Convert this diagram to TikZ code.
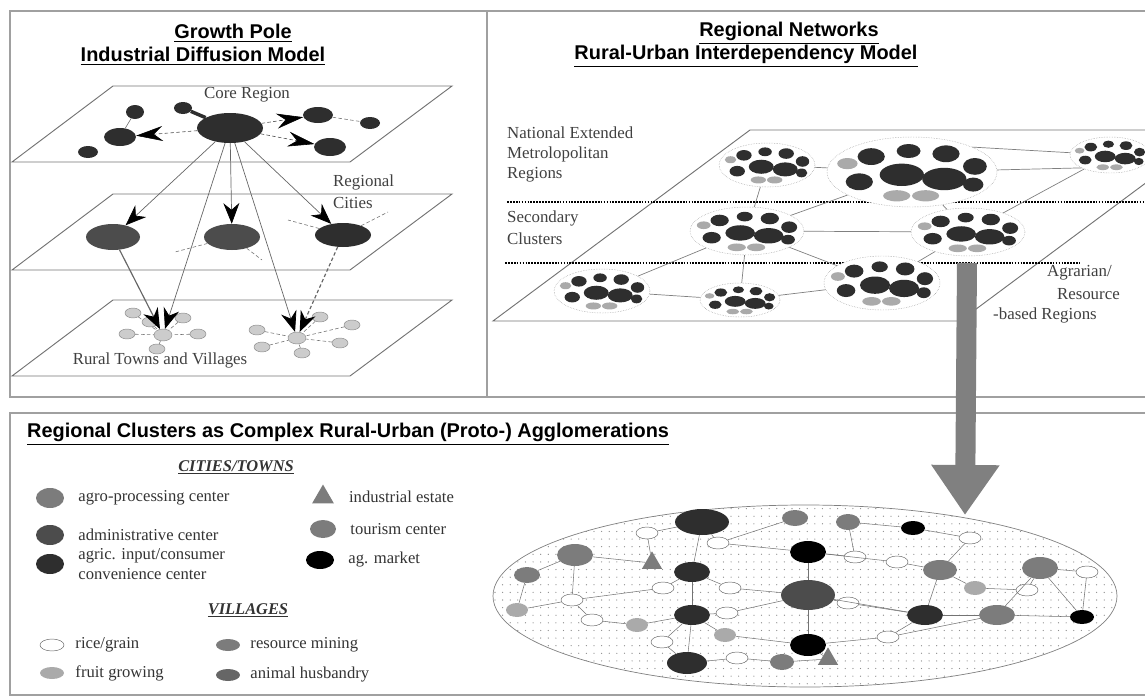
\documentclass[tikz,border=0pt]{standalone}
\usepackage{fontspec}
\setmainfont{Liberation Serif}
\setsansfont{Liberation Sans}
\usetikzlibrary{shapes.geometric}
\usetikzlibrary{arrows.meta}
\usetikzlibrary{patterns}
\usetikzlibrary{positioning}

\definecolor{darkhub}{HTML}{2E2E2E}
\definecolor{midhub}{HTML}{4C4C4C}
\definecolor{greyhub}{HTML}{7C7C7C}
\definecolor{lighthub}{HTML}{AAAAAA}
\definecolor{framegrey}{HTML}{A0A0A0}

% sparse dots for the agglomeration
\pgfdeclarepatternformonly{sparsedots}{\pgfqpoint{-1pt}{-1pt}}{\pgfqpoint{4pt}{4pt}}{\pgfqpoint{6.5pt}{6.5pt}}%
  {\pgfpathcircle{\pgfqpoint{0pt}{0pt}}{0.55pt}\pgfusepath{fill}}

% inner towns of one regional cluster (drawn for rx=50, ry=25)
\newcommand{\clusterdots}[3]{%
  \begin{scope}[shift={(#1)}, xscale=#2, yscale=#3]
    \fill[lighthub] (-38,-6) ellipse [x radius=6, y radius=4];
    \fill[lighthub] (-9,17) ellipse [x radius=8, y radius=4];
    \fill[lighthub] (8,17) ellipse [x radius=8, y radius=4];
    \fill[darkhub] (-24,-11) ellipse [x radius=8, y radius=6];
    \fill[darkhub] (-2,-15) ellipse [x radius=7, y radius=5];
    \fill[darkhub] (20,-13) ellipse [x radius=8, y radius=6];
    \fill[darkhub] (37,-4) ellipse [x radius=7, y radius=6];
    \fill[darkhub] (-31,7) ellipse [x radius=8, y radius=6];
    \fill[darkhub] (-6,2) ellipse [x radius=13, y radius=8];
    \fill[darkhub] (19,5) ellipse [x radius=13, y radius=8];
    \fill[darkhub] (36,9) ellipse [x radius=6, y radius=5];
  \end{scope}}

\begin{document}
\begin{tikzpicture}[x=0.03cm, y=-0.03cm]
  \tikzset{
    hub/.style 2 args={ellipse, inner sep=0pt,
      minimum width=#1*0.06cm, minimum height=#2*0.06cm},
    frame/.style={draw=framegrey, line width=1pt},
    plane/.style={draw=black!55, line width=0.8pt},
    heading/.style={font=\sffamily\bfseries\fontsize{17}{19}\selectfont, inner sep=0pt},
    tag/.style={font=\fontsize{14.4}{17}\selectfont, inner sep=0pt, text=black!75},
    legtext/.style={font=\fontsize{14.2}{17}\selectfont, inner sep=0pt, text=black!80, align=left},
    leghead/.style={font=\bfseries\itshape\fontsize{14}{17}\selectfont, inner sep=0pt, text=black!80},
    push/.style={densely dashed, black!70, line width=0.5pt,
      -{Stealth[length=0.8cm, width=0.45cm, color=black]}},
    drop/.style={black!60, line width=0.6pt,
      -{Stealth[length=0.62cm, width=0.48cm, color=black]}},
    hamlet/.style={hub={8}{5}, fill=lighthub!60, draw=black!45, line width=0.4pt},
    spoke/.style={densely dashed, black!55, line width=0.5pt},
    cluster/.style={ellipse, inner sep=0pt, draw=black!45, densely dotted, fill=white},
    tie/.style={draw=black!50, line width=0.6pt},
    levelline/.style={black, line width=1.3pt, dash pattern=on 1.5pt off 1pt},
    link/.style={draw=black!55, line width=0.45pt},
    village/.style={hub={11}{6}, fill=white, draw=black!60, line width=0.4pt},
    estate/.style={regular polygon, regular polygon sides=3, inner sep=0pt,
      minimum size=0.75cm, fill=greyhub},
  }
  \useasboundingbox (0,0) rectangle (1145,699);
  \clip (0,0) rectangle (1145,699);

  % frames
  \draw[frame] (10,11) rectangle (1170,397);
  \draw[frame] (487,11) -- (487,397);
  \draw[frame] (10,413) rectangle (1170,695);

  % ---------- growth pole model ----------
  \node[heading] (gptitle) at (233,33) {\underline{Growth Pole}};
  \node[heading] (gpsub) at (203,56) {\underline{Industrial Diffusion Model}};

  \foreach \yy in {86,194,300}
    \draw[plane] (12,\yy+76) -- (350,\yy+76) -- (452,\yy) -- (113,\yy) -- cycle;

  \node[tag] (coretag) at (247,95) {Core Region};
  \node[tag, anchor=west] (regtag) at (333,182) {Regional};
  \node[tag, anchor=west] (citytag) at (333,203) {Cities};
  \node[tag] (ruraltag) at (160,360) {Rural Towns and Villages};

  % core region
  \node[hub={33}{15}, fill=darkhub] (core) at (230,128) {};
  \node[hub={9}{7}, fill=darkhub] (c1) at (135,112) {};
  \node[hub={9}{6}, fill=darkhub] (c2) at (183,108) {};
  \node[hub={16}{9}, fill=darkhub] (c3) at (120,137) {};
  \node[hub={10}{6}, fill=darkhub] (c4) at (88,152) {};
  \node[hub={15}{8}, fill=darkhub] (c5) at (318,115) {};
  \node[hub={10}{6}, fill=darkhub] (c6) at (370,123) {};
  \node[hub={16}{9}, fill=darkhub] (c7) at (330,147) {};

  \draw[black!60, line width=0.5pt] (c1) -- (c3);
  \draw[darkhub, line width=3pt] (c2) -- (core);
  \draw[spoke] (c5) -- (c6);
  \draw[push] (core) -- (c3);
  \draw[push] (core) -- (c5);
  \draw[push] (core) -- (c7);

  % regional cities
  \node[hub={27}{13}, fill=midhub] (r1) at (113,237) {};
  \node[hub={28}{13}, fill=midhub] (r2) at (232,237) {};
  \node[hub={28}{12}, fill=darkhub] (r3) at (343,235) {};
  \draw[spoke] (r2) -- (175,252);
  \draw[spoke] (r2) -- (262,260);
  \draw[spoke] (r3) -- (288,220);
  \draw[spoke] (r3) -- (388,212);

  % rural towns and villages
  \node[hub={9}{6}, fill=lighthub!60, draw=black!45] (v1) at (163,335) {};
  \foreach \n/\px/\py in {a/133/313, b/183/318, c/127/334, d/198/334, e/157/349, f/150/322}
    {\node[hamlet] (v1\n) at (\px,\py) {};
     \draw[spoke] (v1\n) -- (v1);}
  \node[hub={9}{6}, fill=lighthub!60, draw=black!45] (v2) at (297,338) {};
  \foreach \n/\px/\py in {a/257/330, b/262/347, c/320/317, d/352/325, e/340/343, f/302/353}
    {\node[hamlet] (v2\n) at (\px,\py) {};
     \draw[spoke] (v2\n) -- (v2);}

  \draw[drop] (core) -- (r1);
  \draw[drop] (core) -- (r2);
  \draw[drop] (core) -- (r3);
  \draw[drop] (core) -- (v1);
  \draw[drop] (core) -- (v2);
  \draw[drop, line width=1pt] (r1) -- (v1);
  \draw[drop, densely dashed, line width=1pt] (r3) -- (v2);

  % ---------- regional networks model ----------
  \node[heading] (rntitle) at (789,33) {\underline{Regional Networks}};
  \node[heading] (rnsub) at (746,56) {\underline{Rural-Urban Interdependency Model}};

  \draw[plane] (493,321) -- (960,321) -- (1217,130) -- (750,130) -- cycle;
  \draw[levelline] (507,202) -- (1145,202);
  \draw[levelline] (505,263) -- (1080,263);

  \node[tag, anchor=west] (nattag) at (507,133) {National Extended};
  \node[tag, anchor=west] (mettag) at (507,154) {Metrolopolitan};
  \node[tag, anchor=west] (rgntag) at (507,175) {Regions};
  \node[tag, anchor=west] (sectag) at (507,218) {Secondary};
  \node[tag, anchor=west] (clutag) at (507,239) {Clusters};
  \node[tag, anchor=east] (agrtag) at (1112,273) {Agrarian/};
  \node[tag, anchor=east] (restag) at (1120,294) {Resource};
  \node[tag, anchor=east] (bastag) at (1097,315) {-based Regions};

  \node[cluster, minimum width=96*0.03cm, minimum height=44*0.03cm] (ca) at (767,165) {};
  \node[cluster, minimum width=170*0.03cm, minimum height=70*0.03cm] (cb) at (912,172) {};
  \node[cluster, minimum width=80*0.03cm, minimum height=36*0.03cm] (cc) at (1110,155) {};
  \node[cluster, minimum width=114*0.03cm, minimum height=48*0.03cm] (cd) at (747,231) {};
  \node[cluster, minimum width=114*0.03cm, minimum height=48*0.03cm] (ce) at (968,232) {};
  \node[cluster, minimum width=96*0.03cm, minimum height=44*0.03cm] (cf) at (602,291) {};
  \node[cluster, minimum width=80*0.03cm, minimum height=34*0.03cm] (cg) at (740,300) {};
  \node[cluster, minimum width=116*0.03cm, minimum height=54*0.03cm] (ch) at (882,283) {};

  \clusterdots{ca.center}{0.96}{0.88}
  \clusterdots{cb.center}{1.7}{1.4}
  \clusterdots{cc.center}{0.8}{0.72}
  \clusterdots{cd.center}{1.14}{0.96}
  \clusterdots{ce.center}{1.14}{0.96}
  \clusterdots{cf.center}{0.96}{0.88}
  \clusterdots{cg.center}{0.8}{0.68}
  \clusterdots{ch.center}{1.16}{1.08}

  \draw[tie] (ca) -- (cb);
  \draw[tie] (ca) -- (cd);
  \draw[tie] (cb.north east) -- (cc);
  \draw[tie] (cb) -- (cc.south west);
  \draw[tie] (cc) -- (ce);
  \draw[tie] (cb) -- (ce);
  \draw[tie] (cd) -- (cb);
  \draw[tie] (cd) -- (ce);
  \draw[tie] (cd) -- (cf);
  \draw[tie] (cd) -- (cg);
  \draw[tie] (cd) -- (ch);
  \draw[tie] (cf) -- (cg);
  \draw[tie] (cg) -- (ch);
  \draw[tie] (ch) -- (ce);

  % ---------- regional clusters ----------
  \node[heading, anchor=west] (rctitle) at (27,434)
    {\underline{Regional Clusters as Complex Rural-Urban (Proto-) Agglomerations}};

  \node[leghead] (cityhead) at (236,467) {\underline{CITIES/TOWNS}};
  \node[hub={14}{10}, fill=greyhub] (leg1) at (50,498) {};
  \node[legtext, right=0.42cm of leg1] {agro-processing center};
  \node[hub={14}{10}, fill=midhub] (leg2) at (50,535) {};
  \node[legtext, right=0.42cm of leg2] {administrative center};
  \node[hub={14}{10}, fill=darkhub] (leg3) at (50,564) {};
  \node[legtext, right=0.42cm of leg3] {agric. input/consumer\\convenience center};
  \node[estate] (leg4) at (323,497) {};
  \node[legtext, right=0.55cm of leg4] {industrial estate};
  \node[hub={13}{9}, fill=greyhub] (leg5) at (323,529) {};
  \node[legtext, right=0.42cm of leg5] {tourism center};
  \node[hub={14}{9}, fill=black] (leg6) at (320,560) {};
  \node[legtext, right=0.42cm of leg6] {ag. market};

  \node[leghead] (villhead) at (248,610) {\underline{VILLAGES}};
  \node[village, hub={12}{6}] (leg7) at (52,645) {};
  \node[legtext, right=0.33cm of leg7] {rice/grain};
  \node[hub={12}{6}, fill=lighthub] (leg8) at (52,673) {};
  \node[legtext, right=0.33cm of leg8] {fruit growing};
  \node[hub={12}{6}, fill=greyhub] (leg9) at (228,645) {};
  \node[legtext, right=0.3cm of leg9] {resource mining};
  \node[hub={12}{6}, fill=black!60] (leg10) at (228,675) {};
  \node[legtext, right=0.3cm of leg10] {animal husbandry};

  % agglomeration
  \node[hub={312}{91}, draw=black!50, line width=0.6pt, pattern=sparsedots, pattern color=black!45] (agglo) at (805,596) {};

  \node[hub={27}{13}, fill=darkhub] (b1) at (702,522) {};
  \node[hub={13}{8}, fill=greyhub] (b2) at (795,518) {};
  \node[hub={12}{8}, fill=greyhub] (b3) at (848,522) {};
  \node[hub={12}{7}, fill=black] (b4) at (913,528) {};
  \node[hub={18}{11}, fill=black] (b5) at (808,552) {};
  \node[hub={18}{11}, fill=greyhub] (b6) at (575,555) {};
  \node[hub={13}{8}, fill=greyhub] (b7) at (527,575) {};
  \node[hub={18}{10}, fill=darkhub] (b8) at (692,572) {};
  \node[hub={17}{10}, fill=greyhub] (b9) at (940,570) {};
  \node[hub={18}{11}, fill=greyhub] (b10) at (1040,568) {};
  \node[hub={27}{15}, fill=midhub] (b11) at (808,595) {};
  \node[hub={18}{10}, fill=darkhub] (b12) at (692,615) {};
  \node[hub={18}{10}, fill=darkhub] (b13) at (925,615) {};
  \node[hub={18}{10}, fill=greyhub] (b14) at (997,615) {};
  \node[hub={12}{7}, fill=black] (b15) at (1082,617) {};
  \node[hub={18}{11}, fill=black] (b16) at (808,645) {};
  \node[hub={20}{11}, fill=darkhub] (b17) at (687,663) {};
  \node[hub={12}{8}, fill=greyhub] (b18) at (782,662) {};
  \node[estate, minimum size=0.7cm] (t1) at (652,563) {};
  \node[estate, minimum size=0.7cm] (t2) at (828,659) {};

  \node[hub={11}{7}, fill=lighthub] (g1) at (517,610) {};
  \node[hub={11}{7}, fill=lighthub] (g2) at (637,625) {};
  \node[hub={11}{7}, fill=lighthub] (g3) at (725,635) {};
  \node[hub={11}{7}, fill=lighthub] (g4) at (975,588) {};

  \foreach \n/\px/\py in {1/647/533, 2/718/543, 3/572/600, 4/592/620, 5/663/588,
      6/730/588, 7/727/613, 8/662/642, 9/737/658, 10/970/538, 11/855/557,
      12/897/562, 13/1087/572, 14/1027/590, 15/848/603, 16/888/637}
    \node[village] (w\n) at (\px,\py) {};

  \foreach \a/\b in {b1/w1, b1/w2, b1/b8, b8/b12, b12/b17, b5/b11, b11/b16,
      w2/b5, b2/w2, b5/w11, w11/b3, b3/b4, b4/w10, w10/b9, b9/w12, w12/b5,
      b9/b13, b11/b13, b13/b14, b14/b15, b10/w13, b10/b14, w13/b15, w14/g4,
      g4/b9, b12/w7, w7/b11, b8/w6, w6/b11, w5/b8, w5/w3, w3/b6, w3/g1,
      g1/b7, b6/b7, b12/g2, g2/w4, w4/w3, b12/w8, w8/b17, b17/w9, w9/b18,
      b18/t2, t2/b16, w16/b13, w16/b16, w15/b11, w15/b13, w1/t1, t1/b6,
      g3/b12, g3/b16, w14/b10, b10/b15, b14/w16}
    \draw[link] (\a) -- (\b);

  % flow from the regions down to the cluster
  \coordinate (flowtop) at (967,263);
  \coordinate (flowtip) at (965,515);
  \draw[black!50, line width=0.6cm, -{Triangle[length=1.5cm, width=1.95cm]}] (flowtop) -- (flowtip);
\end{tikzpicture}
\end{document}
